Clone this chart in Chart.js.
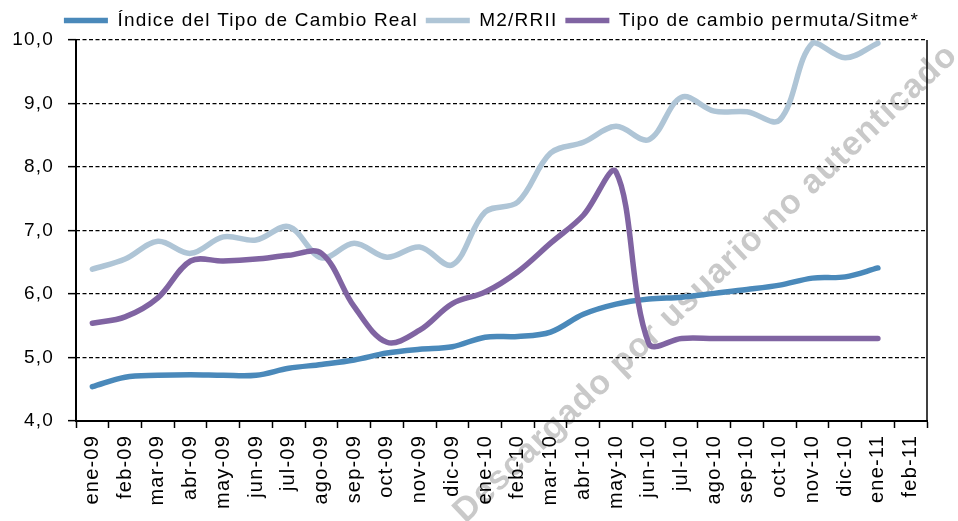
<!DOCTYPE html>
<html>
<head>
<meta charset="utf-8">
<script src="https://cdn.jsdelivr.net/npm/chart.js@4.4.1/dist/chart.umd.min.js"></script>
<style>
  html, body { margin: 0; padding: 0; background: #fff; }
  #wrap { width: 958px; height: 521px; }
</style>
</head>
<body>
<div id="wrap"><canvas id="c" width="958" height="521"></canvas></div>
<script>
const categories = ['ene-09','feb-09','mar-09','abr-09','may-09','jun-09','jul-09','ago-09','sep-09','oct-09','nov-09','dic-09',
  'ene-10','feb-10','mar-10','abr-10','may-10','jun-10','jul-10','ago-10','sep-10','oct-10','nov-10','dic-10','ene-11','feb-11'];
const itcr = [4.54,4.69,4.72,4.73,4.72,4.72,4.83,4.89,4.96,5.07,5.13,5.17,5.32,5.33,5.40,5.68,5.84,5.92,5.95,6.01,6.07,6.14,6.25,6.27,6.41,null];
const m2rrii = [6.39,6.55,6.83,6.64,6.90,6.85,7.06,6.57,6.80,6.58,6.74,6.46,7.29,7.45,8.22,8.39,8.64,8.43,9.10,8.88,8.87,8.74,9.95,9.72,9.95,null];
const permuta = [5.54,5.64,5.94,6.52,6.52,6.55,6.61,6.64,5.80,5.24,5.43,5.85,6.03,6.35,6.80,7.24,7.92,5.22,5.30,5.30,5.30,5.30,5.30,5.30,5.30,null];
const seriesNames = ['Índice del Tipo de Cambio Real', 'M2/RRII', 'Tipo de cambio permuta/Sitme*'];
const seriesColors = ['#4A89BA', '#AFC5D6', '#8064A2'];
const yTicks = [4, 5, 6, 7, 8, 9, 10];
const watermark = 'Descargado por usuario no autenticado';

const FONT = "'Liberation Sans', Arial, sans-serif";
const SPACING = '1.2px';

const spacingPlugin = {
  id: 'spacing',
  beforeUpdate(chart) { chart.ctx.letterSpacing = SPACING; },
  beforeLayout(chart) { chart.ctx.letterSpacing = SPACING; },
  afterLayout(chart) {
    const lg = chart.legend;
    if (lg) { lg.left += 28; lg.right += 28; }
  },
  beforeDraw(chart) {
    const ctx = chart.ctx, a = chart.chartArea;
    ctx.save();
    ctx.letterSpacing = '1px';
    ctx.font = 'bold 34px ' + FONT;
    ctx.fillStyle = '#C9C9C9';
    ctx.textAlign = 'center';
    ctx.textBaseline = 'middle';
    ctx.translate(a.left + (a.right - a.left) * 0.74, a.top + (a.bottom - a.top) * 0.64);
    ctx.rotate(-43.4 * Math.PI / 180);
    ctx.fillText(watermark, 0, 0);
    ctx.restore();
    ctx.letterSpacing = SPACING;
  }
};

const framePlugin = {
  id: 'frame',
  afterDraw(chart) {
    const ctx = chart.ctx, a = chart.chartArea;
    ctx.save();
    ctx.strokeStyle = '#000';
    ctx.lineWidth = 1.5;
    ctx.beginPath();
    ctx.moveTo(a.right, a.top);
    ctx.lineTo(a.right, a.bottom);
    ctx.stroke();
    ctx.lineWidth = 2;
    ctx.beginPath();
    ctx.moveTo(a.left, a.top);
    ctx.lineTo(a.left, a.bottom);
    ctx.stroke();
    ctx.restore();
  }
};

const datasets = [itcr, m2rrii, permuta].map((d, i) => ({
  label: seriesNames[i],
  data: d,
  borderColor: seriesColors[i],
  backgroundColor: seriesColors[i],
  borderWidth: 5.5,
  borderCapStyle: 'round',
  borderJoinStyle: 'round',
  pointRadius: 0,
  pointHoverRadius: 0,
  pointStyle: 'line',
  tension: 0.35,
  fill: false,
  spanGaps: false
}));
datasets[0].order = 2; datasets[1].order = 3; datasets[2].order = 1;

new Chart(document.getElementById('c'), {
  type: 'line',
  data: { labels: categories, datasets },
  plugins: [spacingPlugin, framePlugin],
  options: {
    responsive: false,
    animation: false,
    layout: { padding: { left: 0, right: 31, top: 3, bottom: 0 } },
    plugins: {
      tooltip: { enabled: false },
      legend: {
        position: 'top',
        align: 'center',
        labels: {
          usePointStyle: true,
          pointStyleWidth: 44,
          boxHeight: 19,
          padding: 8,
          color: '#000',
          font: { family: FONT, size: 19 },
          sort: (a, b) => a.datasetIndex - b.datasetIndex
        }
      }
    },
    scales: {
      x: {
        type: 'category',
        offset: true,
        afterFit(s) { s.height = 100; },
        border: { display: true, color: '#000', width: 2 },
        grid: {
          offset: true,
          drawOnChartArea: false,
          drawTicks: true,
          tickLength: 7,
          tickColor: '#000',
          tickWidth: 1.5
        },
        ticks: {
          autoSkip: false,
          maxRotation: 90,
          minRotation: 90,
          padding: 7,
          color: '#000',
          font: { family: FONT, size: 20 }
        }
      },
      y: {
        min: 4,
        max: 10,
        afterFit(s) { s.width = 76; },
        afterBuildTicks(s) { s.ticks = yTicks.map(v => ({ value: v })); },
        border: { display: false, color: '#000', width: 2, dash: [4, 2.5] },
        grid: {
          color: '#000',
          lineWidth: 1.3,
          tickBorderDash: [],
          tickColor: '#000',
          tickLength: 8,
          tickWidth: 1.5
        },
        ticks: {
          padding: 14,
          color: '#000',
          font: { family: FONT, size: 19 },
          callback: v => v.toFixed(1).replace('.', ',')
        }
      }
    }
  }
});
</script>
</body>
</html>
